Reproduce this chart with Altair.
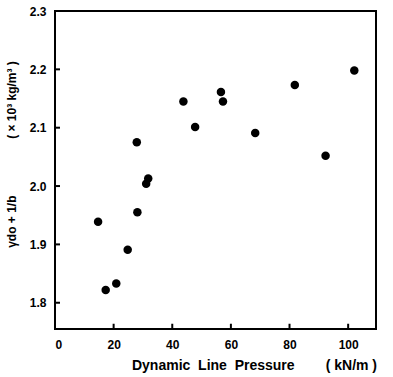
import altair as alt
import pandas as pd

pressure = [14.7, 17.3, 20.9, 24.8, 28.1, 27.9, 31.1, 31.8, 43.8, 47.8, 56.6, 57.3, 68.3, 81.8, 92.3, 102.1]
density = [1.939, 1.822, 1.833, 1.891, 1.955, 2.075, 2.004, 2.013, 2.145, 2.101, 2.161, 2.145, 2.091, 2.173, 2.052, 2.198]
x_ticks = [0, 20, 40, 60, 80, 100]
y_ticks = [1.8, 1.9, 2.0, 2.1, 2.2, 2.3]

df = pd.DataFrame({"p": pressure, "d": density})
FONT = "Liberation Sans"
NB = "\u00a0"
INK = "black"

xs = alt.Scale(domain=[0, 109.5], nice=False, zero=False)
ys = alt.Scale(domain=[1.755, 2.3], nice=False, zero=False)

x_title = f"Dynamic{NB*2}Line{NB*2}Pressure{NB*8}({NB}kN/m{NB})"
y_title = f"γdo + 1/b{NB*17}( × 10³ kg/m³ )"

pts = alt.Chart(df).mark_circle(size=72, color=INK, opacity=1).encode(
    x=alt.X("p:Q", scale=xs, axis=alt.Axis(
        values=x_ticks, title=x_title,
        domain=False, ticks=False,
        labelPadding=10, labelFont=FONT, labelFontWeight="bold", labelFontSize=12,
        labelColor=INK, grid=False,
        titleFont=FONT, titleFontWeight="bold", titleFontSize=14, titleColor=INK,
        titleX=199, titleY=29, titleAnchor="middle")),
    y=alt.Y("d:Q", scale=ys, axis=alt.Axis(
        values=y_ticks, format=".1f", title=y_title,
        domain=False, ticks=False,
        labelPadding=9, labelFont=FONT, labelFontWeight="bold", labelFontSize=12,
        labelColor=INK, grid=False,
        titleFont=FONT, titleFontWeight="bold", titleFontSize=12, titleColor=INK,
        titleX=-37, titleY=143, titleAnchor="middle")),
)

ytk = pd.DataFrame({"d": y_ticks[:-1], "a": [0] * 5, "b": [1.7] * 5})
xtk = pd.DataFrame({"p": x_ticks[1:], "a": [1.755] * 5, "b": [1.764] * 5})

yrules = alt.Chart(ytk).mark_rule(color=INK, strokeWidth=2).encode(
    x=alt.X("a:Q", scale=xs), x2="b:Q", y=alt.Y("d:Q", scale=ys))
xrules = alt.Chart(xtk).mark_rule(color=INK, strokeWidth=2).encode(
    x=alt.X("p:Q", scale=xs), y=alt.Y("a:Q", scale=ys), y2="b:Q")

chart = alt.layer(pts, yrules, xrules).properties(
    width=321, height=318,
).configure_view(stroke=INK, strokeWidth=2)

chart.save("out.html", embed_options={"renderer": "svg", "actions": False})
